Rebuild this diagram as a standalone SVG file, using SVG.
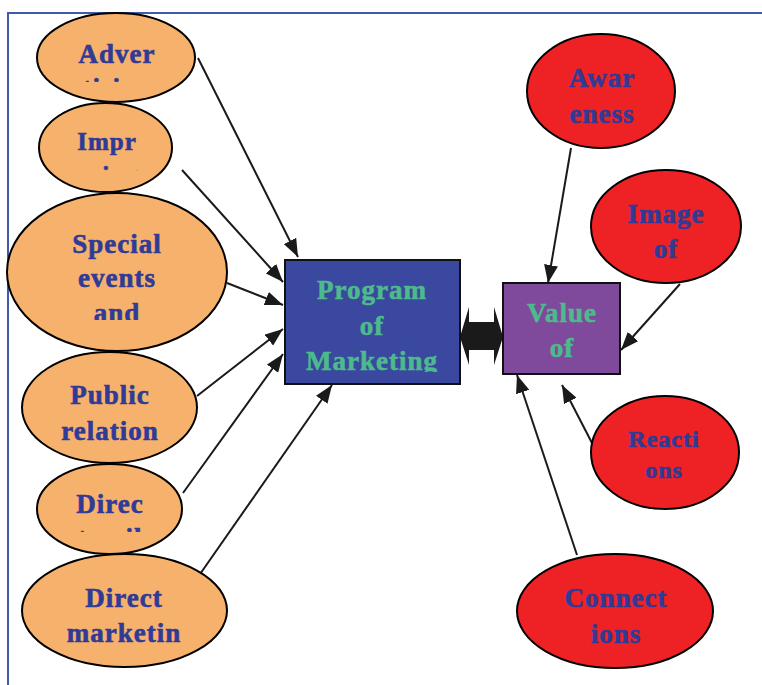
<svg xmlns="http://www.w3.org/2000/svg" width="762" height="685" viewBox="0 0 762 685">
<style>
.orange{fill:#F6B16D;stroke:#000;stroke-width:2}
.red{fill:#EE2225;stroke:#000;stroke-width:2}
.t{font-family:"Liberation Serif","Times New Roman",serif;font-weight:bold;font-size:27px;letter-spacing:1px;text-anchor:middle;stroke-width:0.6px}
.bt{fill:#2F3B96;stroke:#2F3B96}
.gt{fill:#4DBA8C;stroke:#4DBA8C}
.c{stroke:#1a1a1a;stroke-width:2;fill:none;marker-end:url(#ah)}
</style>
<defs>
<marker id="ah" markerUnits="userSpaceOnUse" markerWidth="20" markerHeight="14" refX="18" refY="7" orient="auto">
<path d="M0,0 L18,7 L0,14 Z" fill="#1a1a1a"/>
</marker>
<clipPath id="cAdver"><rect x="0" y="0" width="260" height="82"/></clipPath>
<clipPath id="cImpr"><rect x="0" y="100" width="260" height="71"/></clipPath>
<clipPath id="cSpecial"><rect x="0" y="190" width="260" height="130"/></clipPath>
<clipPath id="cDirec"><rect x="0" y="460" width="260" height="72"/></clipPath>
<clipPath id="cProg"><rect x="284" y="260" width="176" height="112"/></clipPath>
</defs>
<rect width="762" height="685" fill="#fff"/>
<path d="M8,685 V13 H762" fill="none" stroke="#3F5BA9" stroke-width="2"/>

<g id="connectors">
<line class="c" x1="198" y1="58" x2="298" y2="257"/>
<line class="c" x1="182" y1="170" x2="283" y2="282"/>
<line class="c" x1="227" y1="283" x2="283" y2="305"/>
<line class="c" x1="197" y1="396" x2="283" y2="329"/>
<line class="c" x1="183" y1="493" x2="283" y2="354"/>
<line class="c" x1="198" y1="577" x2="332" y2="385"/>
<line class="c" x1="571" y1="148" x2="548" y2="283"/>
<line class="c" x1="680" y1="284" x2="621" y2="350"/>
<line class="c" x1="592" y1="443" x2="562" y2="385"/>
<line class="c" x1="577" y1="555" x2="517" y2="375"/>
<path id="dbl" d="M460,337 L469,307 L469,322 L494,322 L494,307 L503,337 L494,365 L494,350 L469,350 L469,365 Z" fill="#1a1a1a"/>
</g>

<g id="n-adver">
<ellipse class="orange" cx="116" cy="57.5" rx="79" ry="44.5"/>
<text class="t bt" clip-path="url(#cAdver)"><tspan x="117" y="63">Adver</tspan><tspan x="117" y="97">tising</tspan></text>
</g>
<g id="n-impr">
<ellipse class="orange" cx="105.5" cy="147.5" rx="66.5" ry="44.5"/>
<text class="t bt" style="font-size:25px" clip-path="url(#cImpr)"><tspan x="107" y="150">Impr</tspan><tspan x="107" y="184">oving</tspan></text>
</g>
<g id="n-special">
<ellipse class="orange" cx="117" cy="272" rx="110" ry="79"/>
<text class="t bt" clip-path="url(#cSpecial)"><tspan x="117" y="253">Special</tspan><tspan x="117" y="287">events</tspan><tspan x="117" y="322">and</tspan></text>
</g>
<g id="n-public">
<ellipse class="orange" cx="109.5" cy="407.5" rx="87.5" ry="55.5"/>
<text class="t bt"><tspan x="110" y="404">Public</tspan><tspan x="110" y="440">relation</tspan></text>
</g>
<g id="n-direc">
<ellipse class="orange" cx="109.5" cy="509" rx="72.5" ry="45"/>
<text class="t bt" clip-path="url(#cDirec)"><tspan x="110" y="513">Direc</tspan><tspan x="110" y="547">tmail</tspan></text>
</g>
<g id="n-directmarketing">
<ellipse class="orange" cx="124.5" cy="610.5" rx="102.5" ry="56.5"/>
<text class="t bt"><tspan x="124" y="607">Direct</tspan><tspan x="124" y="642">marketin</tspan></text>
</g>

<g id="n-program">
<rect x="285" y="260" width="175" height="124" fill="#3B48A0" stroke="#111" stroke-width="2"/>
<text class="t gt" clip-path="url(#cProg)"><tspan x="372" y="299">Program</tspan><tspan x="372" y="335">of</tspan><tspan x="372" y="370">Marketing</tspan></text>
</g>
<g id="n-value">
<rect x="503" y="283" width="117" height="91" fill="#7F4A9C" stroke="#111" stroke-width="2"/>
<text class="t gt"><tspan x="562" y="322">Value</tspan><tspan x="562" y="357">of</tspan></text>
</g>

<g id="n-awareness">
<ellipse class="red" cx="601" cy="91" rx="74" ry="57"/>
<text class="t bt"><tspan x="602" y="87">Awar</tspan><tspan x="602" y="123">eness</tspan></text>
</g>
<g id="n-image">
<ellipse class="red" cx="666" cy="226.5" rx="75" ry="56.5"/>
<text class="t bt"><tspan x="666" y="223">Image</tspan><tspan x="666" y="258">of</tspan></text>
</g>
<g id="n-reactions">
<ellipse class="red" cx="665" cy="452.5" rx="74" ry="56.5"/>
<text class="t bt" style="font-size:24px"><tspan x="664" y="447">Reacti</tspan><tspan x="664" y="478">ons</tspan></text>
</g>
<g id="n-connections">
<ellipse class="red" cx="615" cy="611" rx="98" ry="57"/>
<text class="t bt"><tspan x="616" y="607">Connect</tspan><tspan x="616" y="643">ions</tspan></text>
</g>
</svg>
